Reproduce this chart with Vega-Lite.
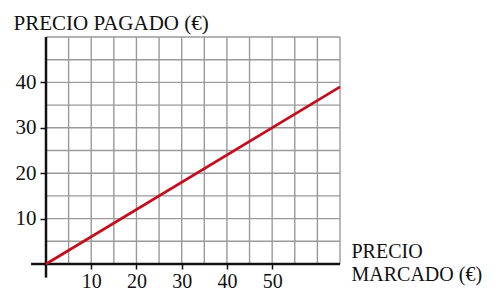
{
  "$schema": "https://vega.github.io/schema/vega-lite/v6.json",
  "width": 294,
  "height": 227,
  "autosize": {"type": "none"},
  "padding": {"left": 46, "top": 37, "right": 155, "bottom": 28},
  "config": {"view": {"stroke": null}, "font": "Liberation Serif"},
  "layer": [
    {
      "data": {"values": [
        {"v": 5}, {"v": 10}, {"v": 15}, {"v": 20}, {"v": 25}, {"v": 30}, {"v": 35},
        {"v": 40}, {"v": 45}, {"v": 50}, {"v": 55}, {"v": 60}, {"v": 65}
      ]},
      "mark": {"type": "rule", "color": "#9a9a9a", "strokeWidth": 1.4},
      "encoding": {
        "x": {"field": "v", "type": "quantitative"},
        "y": {"datum": 0, "type": "quantitative"},
        "y2": {"datum": 50}
      }
    },
    {
      "data": {"values": [
        {"h": 5}, {"h": 10}, {"h": 15}, {"h": 20}, {"h": 25},
        {"h": 30}, {"h": 35}, {"h": 40}, {"h": 45}, {"h": 50}
      ]},
      "mark": {"type": "rule", "color": "#9a9a9a", "strokeWidth": 1.4},
      "encoding": {
        "y": {"field": "h", "type": "quantitative"},
        "x": {"datum": 0, "type": "quantitative"},
        "x2": {"datum": 65}
      }
    },
    {
      "data": {"values": [{"eje": "x"}]},
      "mark": {"type": "rule", "color": "#111111", "strokeWidth": 2.5},
      "encoding": {
        "x": {"datum": -3.3, "type": "quantitative"},
        "x2": {"datum": 65},
        "y": {"datum": 0, "type": "quantitative"}
      }
    },
    {
      "data": {"values": [{"eje": "y"}]},
      "mark": {"type": "rule", "color": "#111111", "strokeWidth": 2.5},
      "encoding": {
        "x": {"datum": 0, "type": "quantitative"},
        "y": {"datum": -3, "type": "quantitative"},
        "y2": {"datum": 50}
      }
    },
    {
      "data": {"values": [
        {"precio_marcado": 0, "precio_pagado": 0},
        {"precio_marcado": 65, "precio_pagado": 39}
      ]},
      "mark": {"type": "line", "color": "#c40d1e", "strokeWidth": 2.7},
      "encoding": {
        "x": {
          "field": "precio_marcado", "type": "quantitative",
          "scale": {"domain": [0, 65], "nice": false, "zero": false},
          "axis": {
            "values": [10, 20, 30, 40, 50],
            "grid": false,
            "domain": false,
            "ticks": true, "tickSize": 5, "tickWidth": 1.5, "tickColor": "#111111",
            "labelOverlap": false, "labelFlush": false,
            "labelFontSize": 20, "labelColor": "#111111", "labelPadding": 2,
            "title": ["PRECIO", "MARCADO (€)"],
            "titleFontSize": 20, "titleFontWeight": "normal", "titleColor": "#111111",
            "titleX": 305, "titleY": -7, "titleAlign": "left", "titleBaseline": "alphabetic",
            "titleLineHeight": 23, "titleAngle": 0
          }
        },
        "y": {
          "field": "precio_pagado", "type": "quantitative",
          "scale": {"domain": [0, 50], "nice": false, "zero": false},
          "axis": {
            "values": [10, 20, 30, 40],
            "grid": false,
            "domain": false,
            "ticks": true, "tickSize": 6, "tickWidth": 1.5, "tickColor": "#111111",
            "labelOverlap": false, "labelFlush": false,
            "labelFontSize": 21, "labelColor": "#111111", "labelPadding": 4, "labelBaseline": "middle",
            "title": "PRECIO PAGADO (€)",
            "titleFontSize": 21, "titleFontWeight": "normal", "titleColor": "#111111",
            "titleX": -33, "titleY": -8, "titleAlign": "left", "titleBaseline": "alphabetic",
            "titleAngle": 0
          }
        }
      }
    }
  ]
}
